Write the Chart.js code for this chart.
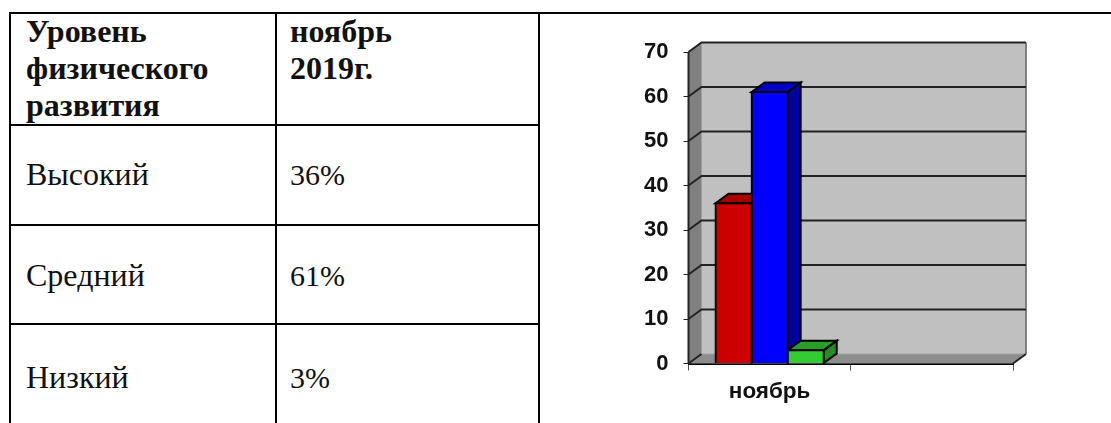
<!DOCTYPE html>
<html><head><meta charset="utf-8">
<style>
html,body{margin:0;padding:0;background:#fff;width:1111px;height:423px;overflow:hidden}
#wrap{position:relative;width:1111px;height:423px}
.t{position:absolute;font-family:"Liberation Serif",serif;font-size:32px;line-height:34px;color:#111;white-space:nowrap}
.b{font-weight:bold}
.v{font-size:30px}
.l{position:absolute;background:#000}
canvas{position:absolute;left:540px;top:0}
</style>
<script src="https://cdn.jsdelivr.net/npm/chart.js@4"></script>
</head><body><div id="wrap">
<div class="l" style="left:9px;top:12px;width:1102px;height:2px"></div>
<div class="l" style="left:9px;top:124px;width:531px;height:2px"></div>
<div class="l" style="left:9px;top:224px;width:531px;height:2px"></div>
<div class="l" style="left:9px;top:323px;width:531px;height:2px"></div>
<div class="l" style="left:9px;top:12px;width:2px;height:411px"></div>
<div class="l" style="left:275px;top:12px;width:2px;height:411px"></div>
<div class="l" style="left:538px;top:12px;width:2px;height:411px"></div>
<div id="cells"></div>
<canvas id="c" width="571" height="423"></canvas>
</div>
<script>
const categories = ['ноябрь', ''];
const high = [36, null];
const middle = [61, null];
const low = [3, null];
const yTicks = [0, 10, 20, 30, 40, 50, 60, 70];
const headerLevel = ['Уровень', 'физического', 'развития'];
const headerMonth = ['ноябрь', '2019г.'];
const rowNames = ['Высокий', 'Средний', 'Низкий'];
const rowValues = ['36%', '61%', '3%'];

const cells = document.getElementById('cells');
function put(txt, x, y, cls) {
  const d = document.createElement('div');
  d.className = 't ' + cls;
  d.style.left = x + 'px'; d.style.top = y + 'px';
  d.textContent = txt; cells.appendChild(d);
}
const headY = [14, 51, 88];
headerLevel.forEach((s, i) => put(s, 26, headY[i], 'b'));
headerMonth.forEach((s, i) => put(s, 290, headY[i], 'b'));
const rowY = [157, 258, 360];
rowNames.forEach((s, i) => put(s, 26, rowY[i], ''));
rowValues.forEach((s, i) => put(s, 290, rowY[i] + 1, 'v'));

const DX = 13, DY = -9.5;
const shades = [
  {front:'#cc0000', top:'#a80000', side:'#8f0000'},
  {front:'#0000ff', top:'#0000c4', side:'#0000a0'},
  {front:'#33cc33', top:'#2a9e2a', side:'#268a26'}
];
function poly(ctx, pts, fill, stroke, lw) {
  ctx.beginPath();
  pts.forEach((p, i) => i ? ctx.lineTo(p[0], p[1]) : ctx.moveTo(p[0], p[1]));
  ctx.closePath();
  if (fill) { ctx.fillStyle = fill; ctx.fill(); }
  if (stroke) { ctx.strokeStyle = stroke; ctx.lineWidth = lw; ctx.stroke(); }
}
const box3d = {
  id: 'box3d',
  beforeDatasetsDraw(chart) {
    const {ctx, chartArea: a, scales: {y}} = chart;
    const L = a.left, R = a.right, B = a.bottom, T = a.top;
    ctx.save();
    poly(ctx, [[L+DX,T+DY],[R+DX,T+DY],[R+DX,B+DY],[L+DX,B+DY]], '#c0c0c0');
    ctx.strokeStyle = '#808080'; ctx.lineWidth = 2;
    ctx.beginPath(); ctx.moveTo(R+DX,T+DY); ctx.lineTo(R+DX,B+DY); ctx.stroke();
    poly(ctx, [[L,B],[L+DX,B+DY],[L+DX,T+DY],[L,T]], '#808080');
    poly(ctx, [[L,B],[R,B],[R+DX,B+DY],[L+DX,B+DY]], '#8c8c8c');
    ctx.strokeStyle = '#a0a0a0'; ctx.lineWidth = 1;
    ctx.beginPath(); ctx.moveTo(L+DX,T+DY); ctx.lineTo(L+DX,B+DY); ctx.lineTo(R+DX,B+DY); ctx.stroke();
    ctx.strokeStyle = '#222'; ctx.lineWidth = 2;
    yTicks.forEach(v => {
      const p = y.getPixelForValue(v);
      ctx.beginPath();
      ctx.moveTo(L, p); ctx.lineTo(L+DX, p+DY);
      if (v > 0) ctx.lineTo(R+DX, p+DY);
      ctx.stroke();
    });
    ctx.beginPath(); ctx.moveTo(R,B); ctx.lineTo(R+DX,B+DY); ctx.stroke();
    ctx.beginPath(); ctx.moveTo(L,B); ctx.lineTo(L,T); ctx.stroke();
    chart.data.datasets.forEach((ds, i) => {
      chart.getDatasetMeta(i).data.forEach((bar, j) => {
        if (ds.data[j] == null) return;
        const p = bar.getProps(['x','y','base','width'], true);
        const l = p.x - p.width/2, r = p.x + p.width/2;
        poly(ctx, [[r,p.y],[r+DX,p.y+DY],[r+DX,p.base+DY],[r,p.base]], shades[i].side, '#000', 2);
        poly(ctx, [[l,p.y],[l+DX,p.y+DY],[r+DX,p.y+DY],[r,p.y]], shades[i].top, '#000', 2);
      });
    });
    ctx.restore();
  }
};

new Chart(document.getElementById('c'), {
  type: 'bar',
  data: {
    labels: categories,
    datasets: [
      {label:'Высокий', data:high, backgroundColor:shades[0].front},
      {label:'Средний', data:middle, backgroundColor:shades[1].front},
      {label:'Низкий', data:low, backgroundColor:shades[2].front}
    ]
  },
  plugins: [box3d],
  options: {
    responsive:false, animation:false, events:[],
    layout:{padding:{left:0,right:98,top:52,bottom:0}},
    plugins:{legend:{display:false},title:{display:false},tooltip:{enabled:false}},
    datasets:{bar:{borderColor:'#000',borderWidth:2,inflateAmount:1,categoryPercentage:0.667,barPercentage:1}},
    scales:{
      x:{
        afterFit(s){s.height=59.5;},
        grid:{display:true,offset:true,drawOnChartArea:false,drawTicks:true,tickLength:7,color:'#555',lineWidth:1},
        border:{display:true,color:'#000',width:2},
        ticks:{color:'#111',maxRotation:0,padding:8,font:{family:'"Liberation Sans"',size:22.5,weight:'bold'}}
      },
      y:{
        min:0,max:70,
        afterFit(s){s.width=148.5;},
        afterBuildTicks(s){s.ticks=yTicks.map(v=>({value:v}));},
        grid:{display:true,drawOnChartArea:false,drawTicks:true,tickLength:5,color:'#222',lineWidth:1},
        border:{display:false},
        ticks:{color:'#111',padding:15,font:{family:'"Liberation Sans"',size:22,weight:'bold'}}
      }
    }
  }
});
</script></body></html>
